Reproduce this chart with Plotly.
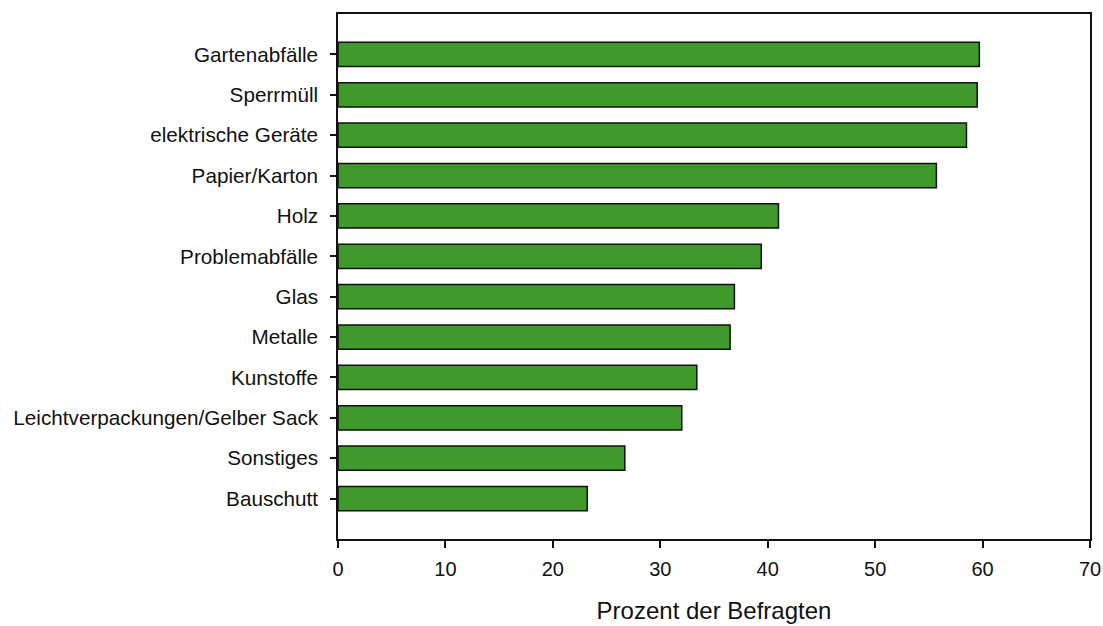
import plotly.graph_objects as go

categories = [
    "Gartenabfälle", "Sperrmüll", "elektrische Geräte", "Papier/Karton", "Holz",
    "Problemabfälle", "Glas", "Metalle", "Kunstoffe",
    "Leichtverpackungen/Gelber Sack", "Sonstiges", "Bauschutt",
]
values = [59.7, 59.5, 58.5, 55.7, 41.0, 39.4, 36.9, 36.5, 33.4, 32.0, 26.7, 23.2]
x_ticks = [0, 10, 20, 30, 40, 50, 60, 70]

fig = go.Figure()
fig.add_trace(go.Bar(
    y=categories[::-1], x=values[::-1], orientation="h", width=0.6,
    marker=dict(color="#3f9a2b", line=dict(color="#111111", width=1.5)),
    hoverinfo="x+y",
))

fig.update_layout(
    width=1103, height=626, autosize=False,
    paper_bgcolor="white", plot_bgcolor="white",
    font=dict(family="Liberation Sans, Arial, sans-serif", size=20.7, color="#111111"),
    margin=dict(l=338, r=13, t=14, b=87),
    showlegend=False,
)
fig.update_xaxes(
    range=[0, 70], tickvals=x_ticks, ticks="outside", ticklen=7, tickwidth=1.5,
    tickcolor="#111111", showline=True, linecolor="#111111", linewidth=1.5,
    mirror=True, showgrid=False, zeroline=False, automargin=False,
    tickfont=dict(size=20), ticklabelstandoff=4,
    title=dict(text="Prozent der Befragten", font=dict(size=24), standoff=23),
)
fig.update_yaxes(
    type="category", range=[-1, 12], ticks="outside", ticklen=6, tickwidth=1.5,
    tickcolor="#111111", showline=True, linecolor="#111111", linewidth=1.5,
    mirror=True, showgrid=False, zeroline=False, automargin=False,
    ticklabelstandoff=8,
)

# page body has an 8px default margin; drop it so the figure fills the window
fig.write_html("out.html", config={"displayModeBar": False},
               post_script="document.body.style.margin='0';")
